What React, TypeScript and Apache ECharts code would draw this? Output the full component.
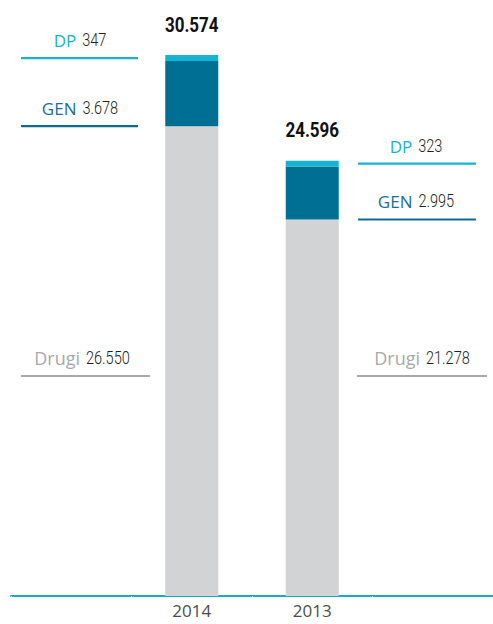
import React, { useEffect, useRef } from 'react';
import * as echarts from 'echarts';

const categories = ['', '2014', '2013', ''];
const drugi = [null, 26550, 21278, null];
const gen = [null, 3678, 2995, null];
const dp = [null, 347, 323, null];
const totals = [null, 30574, 24596, null];
const seriesNames = ['Drugi', 'GEN', 'DP'];
const colors = ['#d1d3d4', '#006f94', '#16b4d0'];
const textColors = ['#a7a9ac', '#1a6f93', '#1ab0cc'];
const lineColors = ['#a7a9ac', '#0b6d91', '#1ab3cf'];

const NUMFONT = 'Roboto, "Liberation Sans", sans-serif';
const NAMEFONT = '"Open Sans", "Noto Sans", sans-serif';

const fmt = (v: number) =>
  v >= 1000 ? `${Math.floor(v / 1000)}.${String(v % 1000).padStart(3, '0')}` : String(v);

let ctx: CanvasRenderingContext2D | null = null;
const measure = (text: string, font: string) => {
  if (!ctx) ctx = document.createElement('canvas').getContext('2d');
  if (!ctx) return text.length * 9;
  ctx.font = font;
  return ctx.measureText(text).width;
};

export default function App() {
  const ref = useRef<HTMLDivElement>(null);
  useEffect(() => {
    if (!ref.current) return;
    const chart = echarts.init(ref.current, undefined, { renderer: 'svg' });
    const maxTotal = Math.max(...(totals.filter((v) => v != null) as number[]));
    const data = [drugi, gen, dp];
    chart.setOption({
      animation: false,
      grid: { left: 11, width: 487, top: 55, bottom: 28, containLabel: false },
      xAxis: {
        type: 'category',
        data: categories,
        axisLine: { lineStyle: { color: '#1aa9c6', width: 2 } },
        axisTick: { show: true, length: 1, inside: false, lineStyle: { color: 'rgba(255,255,255,0.7)', width: 1 } },
        axisLabel: { color: '#4d4d4d', fontSize: 17, fontFamily: NAMEFONT, margin: 6 },
      },
      yAxis: { type: 'value', min: 0, max: maxTotal, show: false, splitLine: { show: false } },
      series: seriesNames.map((name, i) => ({
        name,
        type: 'bar',
        stack: 'total',
        barWidth: 53,
        data: data[i],
        itemStyle: { color: colors[i] },
        label: { show: false },
      })),
    });

    const yPix = (v: number) => chart.convertToPixel({ yAxisIndex: 0 }, v) as number;
    const xPix = (c: string) => chart.convertToPixel({ xAxisIndex: 0 }, c) as number;
    const elements: any[] = [];

    // totals above bars
    categories.forEach((c, i) => {
      const t = totals[i];
      if (t == null) return;
      const top = yPix((drugi[i] as number) + (gen[i] as number) + (dp[i] as number));
      elements.push({
        type: 'text',
        x: xPix(c),
        y: top - 20,
        scaleX: 0.81,
        style: {
          text: fmt(t),
          align: 'center',
          verticalAlign: 'bottom',
          fontFamily: NUMFONT,
          fontWeight: 'bold',
          fontSize: 21,
          fill: '#111111',
        },
      });
    });

    const NAME_SIZE = 17;
    const NUM_SIZE = 17.5;
    const NUM_SCALE = 0.83;
    const GAP = 6;
    const sides = [
      { idx: 1, x1: 21, x2: 138, x1d: 21, x2d: 150, cx: 80, cxd: 82 },
      { idx: 2, x1: 358, x2: 476, x1d: 357, x2d: 487, cx: 416, cxd: 422 },
    ];
    sides.forEach((s) => {
      const d = drugi[s.idx] as number;
      const g = gen[s.idx] as number;
      const p = dp[s.idx] as number;
      const items = [
        { name: seriesNames[2], val: p, y: yPix(d + g + p / 2), x1: s.x1, x2: s.x2, cx: s.cx, c: 2, size: NAME_SIZE },
        { name: seriesNames[1], val: g, y: yPix(d), x1: s.x1, x2: s.x2, cx: s.cx, c: 1, size: NAME_SIZE },
        { name: seriesNames[0], val: d, y: 376, x1: s.x1d, x2: s.x2d, cx: s.cxd, c: 0, size: 18 },
      ];
      items.forEach((it) => {
        elements.push({
          type: 'line',
          shape: { x1: it.x1, y1: it.y, x2: it.x2, y2: it.y },
          style: { stroke: lineColors[it.c], lineWidth: 2.2 },
        });
        const valText = fmt(it.val);
        const nw = measure(it.name, `${it.size}px ${NAMEFONT}`);
        const vw = measure(valText, `300 ${NUM_SIZE}px ${NUMFONT}`) * NUM_SCALE;
        const left = it.cx - (nw + GAP + vw) / 2;
        elements.push({
          type: 'text',
          x: left,
          y: it.y - 9,
          style: {
            text: it.name,
            align: 'left',
            verticalAlign: 'bottom',
            fontFamily: NAMEFONT,
            fontSize: it.size,
            fill: textColors[it.c],
          },
        });
        elements.push({
          type: 'text',
          x: left + nw + GAP,
          y: it.y - 9,
          scaleX: NUM_SCALE,
          style: {
            text: valText,
            align: 'left',
            verticalAlign: 'bottom',
            fontFamily: NUMFONT,
            fontWeight: 300,
            fontSize: NUM_SIZE,
            fill: '#231f20',
          },
        });
      });
    });
    chart.setOption({ graphic: { elements } });
    return () => chart.dispose();
  }, []);
  return <div ref={ref} style={{ position: 'absolute', left: 0, top: 0, width: 493, height: 624 }} />;
}
